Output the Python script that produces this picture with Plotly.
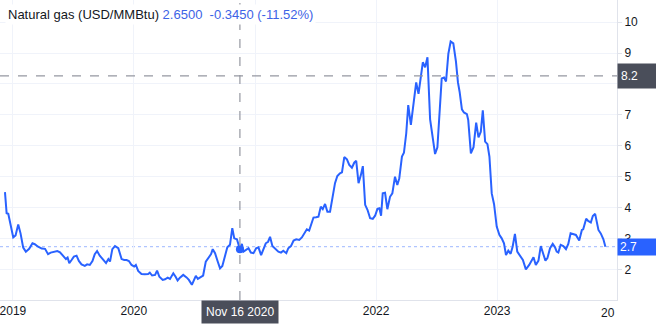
import plotly.graph_objects as go

dates = [
    "2018-12-08","2018-12-13","2018-12-18","2018-12-26","2019-01-02","2019-01-09","2019-01-17","2019-01-24",
    "2019-02-01","2019-02-09","2019-02-19","2019-03-01","2019-03-08","2019-03-18","2019-03-29","2019-04-08",
    "2019-04-13","2019-04-17","2019-04-25","2019-05-05","2019-05-15","2019-05-23","2019-06-02","2019-06-10",
    "2019-06-15","2019-06-20","2019-06-27","2019-07-04","2019-07-12","2019-07-19","2019-07-27","2019-08-06",
    "2019-08-13","2019-08-21","2019-08-29","2019-09-05","2019-09-12","2019-09-20","2019-09-29","2019-10-09",
    "2019-10-16","2019-10-21","2019-10-28","2019-11-05","2019-11-15","2019-11-25","2019-12-03","2019-12-10",
    "2019-12-17","2019-12-25",
    "2020-01-02","2020-01-07","2020-01-14","2020-01-24","2020-02-03","2020-02-13","2020-02-18","2020-02-25",
    "2020-03-05","2020-03-11","2020-03-18","2020-03-28","2020-04-04","2020-04-12","2020-04-19","2020-04-29",
    "2020-05-06","2020-05-12","2020-05-19","2020-05-29","2020-06-08","2020-06-15","2020-06-24","2020-06-30",
    "2020-07-06","2020-07-12","2020-07-20","2020-07-28","2020-08-05","2020-08-13","2020-08-21","2020-08-26",
    "2020-09-02","2020-09-10","2020-09-17","2020-09-24","2020-10-02","2020-10-09","2020-10-17","2020-10-24",
    "2020-10-30","2020-11-07","2020-11-16","2020-11-22","2020-11-27","2020-12-05","2020-12-12","2020-12-19",
    "2020-12-27",
    "2021-01-04","2021-01-11","2021-01-19","2021-01-26","2021-02-02","2021-02-09","2021-02-15","2021-02-22",
    "2021-03-02","2021-03-12","2021-03-20","2021-03-27","2021-04-05","2021-04-11","2021-04-19","2021-04-27",
    "2021-05-05","2021-05-14","2021-05-22","2021-05-29","2021-06-06","2021-06-13","2021-06-19","2021-06-26",
    "2021-07-04","2021-07-11","2021-07-18","2021-07-24","2021-07-31","2021-08-07","2021-08-15","2021-08-23",
    "2021-08-30","2021-09-06","2021-09-14","2021-09-20","2021-09-27","2021-10-05","2021-10-12","2021-10-20",
    "2021-10-27","2021-11-02","2021-11-09","2021-11-16","2021-11-22","2021-11-29","2021-12-06","2021-12-14",
    "2021-12-22","2021-12-29",
    "2022-01-05","2022-01-11","2022-01-16","2022-01-21","2022-01-28","2022-02-04","2022-02-12","2022-02-19",
    "2022-02-27","2022-03-06","2022-03-12","2022-03-20","2022-03-26","2022-04-02","2022-04-08","2022-04-16",
    "2022-04-24","2022-05-02","2022-05-09","2022-05-16","2022-05-22","2022-05-29","2022-06-05","2022-06-13",
    "2022-06-21","2022-06-28","2022-07-05","2022-07-11","2022-07-18","2022-07-25","2022-07-31","2022-08-07",
    "2022-08-14","2022-08-22","2022-08-30","2022-09-05","2022-09-10","2022-09-17","2022-09-23","2022-10-02",
    "2022-10-06","2022-10-14","2022-10-22","2022-10-30","2022-11-06","2022-11-13","2022-11-19","2022-11-26",
    "2022-12-03","2022-12-09","2022-12-16","2022-12-23","2022-12-31",
    "2023-01-08","2023-01-15","2023-01-22","2023-01-28","2023-02-04","2023-02-11","2023-02-17","2023-02-24",
    "2023-03-03","2023-03-11","2023-03-20","2023-03-29","2023-04-08","2023-04-21","2023-04-28","2023-05-06",
    "2023-05-13","2023-05-21","2023-05-27","2023-06-02","2023-06-10","2023-06-18","2023-06-25","2023-06-30",
    "2023-07-05","2023-07-12","2023-07-20","2023-07-28","2023-08-04","2023-08-11","2023-08-19","2023-08-27",
    "2023-09-06","2023-09-14","2023-09-18","2023-09-27","2023-10-03","2023-10-11","2023-10-17","2023-10-24",
    "2023-11-03","2023-11-10","2023-11-18","2023-11-24",
]

prices = [
    4.51,3.83,3.81,3.35,3.05,3.11,3.47,3.18,
    2.72,2.59,2.68,2.86,2.83,2.75,2.69,2.68,
    2.59,2.51,2.56,2.59,2.61,2.57,2.43,2.35,
    2.40,2.22,2.32,2.43,2.46,2.29,2.18,2.13,
    2.18,2.16,2.29,2.51,2.61,2.46,2.35,2.22,
    2.35,2.27,2.67,2.77,2.70,2.35,2.32,2.32,
    2.29,2.16,
    2.11,2.16,1.97,1.87,1.86,1.87,1.91,1.82,
    1.84,1.98,1.78,1.68,1.70,1.75,1.71,1.89,
    1.78,1.66,1.75,1.84,1.76,1.68,1.52,1.70,
    1.81,1.71,1.78,1.82,2.27,2.38,2.51,2.67,
    2.54,2.27,2.05,2.13,2.43,2.73,2.81,3.35,
    3.02,2.99,2.67,2.84,2.59,2.65,2.70,2.56,
    2.54,
    2.70,2.73,2.48,2.65,2.86,2.91,3.07,2.77,
    2.70,2.59,2.56,2.62,2.54,2.70,2.77,2.95,
    2.99,2.97,3.05,3.16,3.31,3.27,3.45,3.69,
    3.70,3.72,4.04,3.96,4.13,3.88,3.88,4.36,
    4.80,5.03,5.12,5.15,5.64,5.57,5.39,5.30,
    5.46,5.52,4.80,5.06,5.35,4.10,3.94,3.67,
    3.65,3.75,
    3.97,3.99,3.75,4.47,4.49,3.96,4.36,4.47,
    5.01,4.74,4.96,5.66,5.78,6.41,7.32,6.68,
    7.40,8.05,7.68,8.24,8.70,8.54,8.86,6.86,
    6.30,5.74,5.96,6.95,8.18,8.21,8.08,8.97,
    9.37,9.31,8.72,8.05,7.75,7.18,7.08,7.03,
    6.84,5.76,5.96,6.75,6.28,6.46,7.15,6.14,
    6.06,5.66,4.47,4.12,3.40,
    3.13,3.02,2.86,2.48,2.62,2.52,2.75,3.16,
    2.59,2.45,2.32,2.02,2.16,2.41,2.16,2.30,
    2.77,2.50,2.30,2.38,2.70,2.84,2.73,2.59,
    2.56,2.81,2.77,2.67,2.84,3.18,3.16,3.13,
    2.95,3.29,3.31,3.65,3.58,3.53,3.74,3.81,
    3.29,3.18,2.99,2.75,
]

# 2021 label sits under the crosshair date box in the reference, so it is left blank
year_ticks = ["2019-01-01", "2020-01-01", "2021-01-01", "2022-01-01", "2023-01-01"]
year_labels = ["2019", "2020", "", "2022", "2023"]
# 8 label is hidden under the crosshair price box in the reference
y_ticks = [2, 3, 4, 5, 6, 7, 8, 9, 10]
y_labels = ["2", "3", "4", "5", "6", "7", "", "9", "10"]

hover_date = "2020-11-16"
hover_value = 2.67
hover_label = "Nov 16 2020"
cross_value = 8.26
cross_label = "8.2"
last_label = "2.7"
header_name = "Natural gas (USD/MMBtu)"
header_quote = "2.6500\u00a0\u00a0-0.3450 (-11.52%)"

BLUE = "#2962ff"
GRID = "#f0f3fa"
BORDER = "#e0e3eb"
TEXT = "#131722"
FONT = "Liberation Sans, Arial, sans-serif"

fig = go.Figure()
fig.add_trace(go.Scatter(x=dates, y=prices, mode="lines",
                         line=dict(color=BLUE, width=2), hoverinfo="skip"))
fig.add_trace(go.Scatter(x=[hover_date], y=[hover_value], mode="markers",
                         marker=dict(color=BLUE, size=8), hoverinfo="skip"))

last_value = prices[-1]
fig.add_shape(type="line", xref="paper", yref="y", x0=0, x1=1, y0=last_value, y1=last_value,
              line=dict(color="rgba(41,98,255,0.45)", width=1, dash="dot"), layer="below")
fig.add_shape(type="line", xref="x", yref="paper", x0=hover_date, x1=hover_date, y0=0, y1=1,
              line=dict(color="#9598a1", width=1.2, dash="dash"))
fig.add_shape(type="line", xref="paper", yref="y", x0=0, x1=1, y0=cross_value, y1=cross_value,
              line=dict(color="#9598a1", width=1.2, dash="dash"))

fig.add_annotation(xref="paper", yref="paper", x=0, y=1, xanchor="left", yanchor="top",
                   xshift=5, yshift=-4, showarrow=False, bgcolor="white", borderpad=2,
                   text=f"{header_name} <span style='color:#3d63e6'>{header_quote}</span>",
                   font=dict(family=FONT, size=13, color=TEXT))
fig.add_annotation(xref="paper", yref="y", x=1, y=cross_value, xanchor="left", yanchor="middle",
                   showarrow=False, text=cross_label, bgcolor="#4a4e5a", width=36, height=18,
                   align="left", borderpad=3, font=dict(family=FONT, size=12, color="white"))
fig.add_annotation(xref="paper", yref="y", x=1, y=last_value, xanchor="left", yanchor="middle",
                   showarrow=False, text=last_label, bgcolor=BLUE, width=36, height=12,
                   align="left", borderpad=2, font=dict(family=FONT, size=12, color="white"))
fig.add_annotation(xref="x", yref="paper", x=hover_date, y=0, xanchor="center", yanchor="top",
                   showarrow=False, text=hover_label, bgcolor="#4a4e5a", borderpad=4,
                   font=dict(family=FONT, size=12, color="white"))
fig.add_annotation(xref="paper", yref="paper", x=1, y=0, xanchor="right", yanchor="top",
                   yshift=-4, showarrow=False, text="20",
                   font=dict(family=FONT, size=12, color=TEXT))

fig.update_layout(
    width=656, height=333,
    margin=dict(l=0, r=39, t=0, b=33),
    paper_bgcolor="white", plot_bgcolor="white",
    showlegend=False,
    font=dict(family=FONT, size=12, color=TEXT),
)
fig.update_xaxes(
    type="date", range=["2018-11-23", "2023-12-29"],
    tickvals=year_ticks, ticktext=year_labels, ticks="",
    ticklabeloverflow="allow",
    showgrid=True, gridcolor=GRID, gridwidth=1,
    showline=True, linecolor=BORDER, linewidth=1,
    zeroline=False, tickfont=dict(size=12, color=TEXT),
)
fig.update_yaxes(
    side="right", range=[1.03, 10.71], tickvals=y_ticks, ticktext=y_labels,
    ticks="outside", ticklen=4, tickcolor=BORDER,
    showgrid=True, gridcolor=GRID, gridwidth=1,
    showline=True, linecolor=BORDER, linewidth=1,
    zeroline=False, tickfont=dict(size=12, color=TEXT),
)

fig.write_html("out.html")
